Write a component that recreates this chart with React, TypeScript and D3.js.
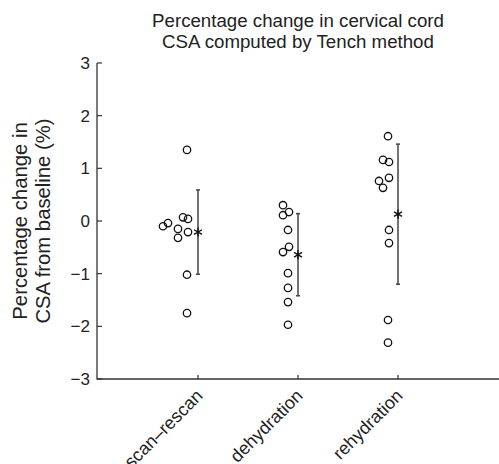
import React, { useEffect, useRef } from "react";
import * as d3 from "d3";

// categories and per-subject percentage changes
const categories = ["scan\u2013rescan", "dehydration", "rehydration"];
const scanRescan = [-0.1, -0.04, 0.07, 0.04, -0.15, -0.21, -0.32, -1.02, -1.75, 1.35];
const dehydration = [0.3, 0.17, 0.11, -0.17, -0.49, -0.59, -0.99, -1.27, -1.54, -1.97];
const rehydration = [1.61, 1.16, 1.12, 0.82, 0.76, 0.63, -0.17, -0.42, -1.88, -2.31];
// horizontal jitter of each point, in category units
const scanRescanJitter = [-0.35, -0.3, -0.15, -0.1, -0.2, -0.1, -0.2, -0.11, -0.11, -0.11];
const dehydrationJitter = [-0.15, -0.09, -0.15, -0.1, -0.09, -0.15, -0.1, -0.1, -0.1, -0.1];
const rehydrationJitter = [-0.1, -0.15, -0.09, -0.09, -0.19, -0.15, -0.09, -0.09, -0.1, -0.1];
// group mean and SD
const means = [-0.21, -0.64, 0.13];
const sds = [0.8, 0.78, 1.33];
const yTicks = [-3, -2, -1, 0, 1, 2, 3];

const W = 499;
const H = 464;

const App = () => {
  const ref = useRef<SVGSVGElement>(null);

  useEffect(() => {
    const svg = d3.select(ref.current);
    svg.selectAll("*").remove();

    const font = "'Liberation Sans', Arial, sans-serif";
    const axisColor = "#333";
    const textColor = "#222";

    const x = d3.scaleLinear().domain([0, 4]).range([98, 498]);
    const y = d3.scaleLinear().domain([-3, 3]).range([379, 63]);

    // title
    const title = svg
      .append("text")
      .attr("font-family", font)
      .attr("font-size", 18.7)
      .attr("fill", textColor)
      .attr("text-anchor", "middle");
    title.append("tspan").attr("x", 298).attr("y", 27).text("Percentage change in cervical cord");
    title.append("tspan").attr("x", 298).attr("y", 48).text("CSA computed by Tench method");

    // y axis label
    const yl = svg
      .append("text")
      .attr("transform", `translate(0,${(y(3) + y(-3)) / 2}) rotate(-90)`)
      .attr("font-family", font)
      .attr("font-size", 20.3)
      .attr("fill", textColor)
      .attr("text-anchor", "middle");
    yl.append("tspan").attr("x", 0).attr("y", 27).text("Percentage change in");
    yl.append("tspan").attr("x", 0).attr("y", 50).text("CSA from baseline (%)");

    // axes lines
    svg
      .append("path")
      .attr("d", `M${x(0) - 1},${y(3)}V${y(-3)}H${W}`)
      .attr("fill", "none")
      .attr("stroke", axisColor)
      .attr("stroke-width", 1.3);

    // y ticks (inward)
    svg
      .selectAll(".ytick")
      .data(yTicks)
      .enter()
      .append("line")
      .attr("x1", x(0) - 1)
      .attr("x2", x(0) + 4)
      .attr("y1", (d) => y(d))
      .attr("y2", (d) => y(d))
      .attr("stroke", axisColor)
      .attr("stroke-width", 1.2);

    svg
      .selectAll(".ylab")
      .data(yTicks)
      .enter()
      .append("text")
      .attr("x", x(0) - 8)
      .attr("y", (d) => y(d))
      .attr("dy", "0.36em")
      .attr("text-anchor", "end")
      .attr("font-family", font)
      .attr("font-size", 17)
      .attr("fill", textColor)
      .text((d) => (d < 0 ? "\u2212" + Math.abs(d) : String(d)));

    // x ticks (inward)
    svg
      .selectAll(".xtick")
      .data(categories)
      .enter()
      .append("line")
      .attr("x1", (d, i) => x(i + 1))
      .attr("x2", (d, i) => x(i + 1))
      .attr("y1", y(-3))
      .attr("y2", y(-3) - 4)
      .attr("stroke", axisColor)
      .attr("stroke-width", 1.2);

    svg
      .selectAll(".xlab")
      .data(categories)
      .enter()
      .append("text")
      .attr("transform", (d, i) => `translate(${x(i + 1) - 3},${y(-3) + 9}) rotate(-45)`)
      .attr("text-anchor", "end")
      .attr("dy", "0.7em")
      .attr("font-family", font)
      .attr("font-size", 18)
      .attr("fill", textColor)
      .text((d) => d);

    // points
    const groups = [
      { values: scanRescan, jitter: scanRescanJitter },
      { values: dehydration, jitter: dehydrationJitter },
      { values: rehydration, jitter: rehydrationJitter },
    ];
    groups.forEach((g, gi) => {
      svg
        .append("g")
        .selectAll("circle")
        .data(g.values)
        .enter()
        .append("circle")
        .attr("cx", (d, i) => x(gi + 1 + g.jitter[i]))
        .attr("cy", (d) => y(d))
        .attr("r", 3.7)
        .attr("fill", "none")
        .attr("stroke", "#111")
        .attr("stroke-width", 1.3);
    });

    // error bars with mean asterisk
    const eb = svg
      .selectAll(".eb")
      .data(means)
      .enter()
      .append("g")
      .attr("transform", (d, i) => `translate(${x(i + 1)},0)`);
    eb.append("line")
      .attr("y1", (d, i) => y(d + sds[i]))
      .attr("y2", (d, i) => y(d - sds[i]))
      .attr("stroke", "#444")
      .attr("stroke-width", 1.5);
    eb.append("line")
      .attr("x1", -2)
      .attr("x2", 2)
      .attr("y1", (d, i) => y(d + sds[i]))
      .attr("y2", (d, i) => y(d + sds[i]))
      .attr("stroke", "#444")
      .attr("stroke-width", 1.5);
    eb.append("line")
      .attr("x1", -2)
      .attr("x2", 2)
      .attr("y1", (d, i) => y(d - sds[i]))
      .attr("y2", (d, i) => y(d - sds[i]))
      .attr("stroke", "#444")
      .attr("stroke-width", 1.5);
    const star = d3.symbol().type(d3.symbolAsterisk).size(60);
    eb.append("path")
      .attr("transform", (d) => `translate(0,${y(d)})`)
      .attr("d", star() as string)
      .attr("fill", "none")
      .attr("stroke", "#111")
      .attr("stroke-width", 1.4);
  }, []);

  return (
    <svg
      ref={ref}
      width={W}
      height={H}
      style={{ position: "absolute", left: 0, top: 0, background: "#fff" }}
    />
  );
};

export default App;
